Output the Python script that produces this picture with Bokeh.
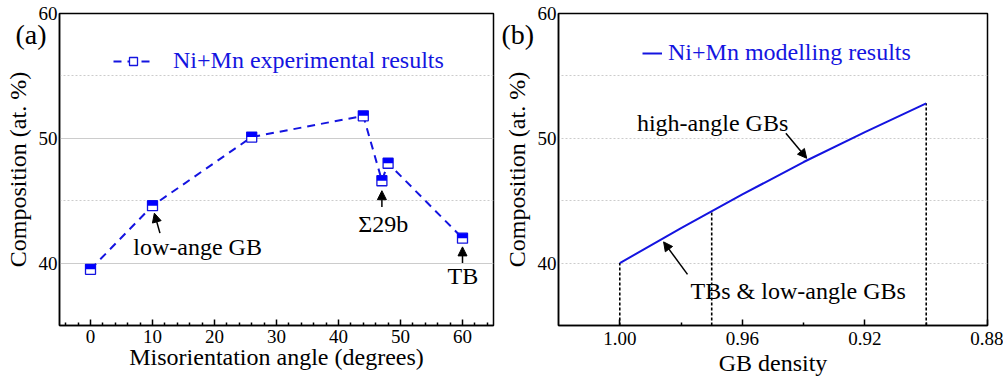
from bokeh.plotting import figure
from bokeh.layouts import row
from bokeh.models import (Range1d, FixedTicker, Legend, LegendItem, Arrow,
                          NormalHead, Label, PrintfTickFormatter, Title)
from bokeh.embed import file_html
from bokeh.resources import INLINE

# ---------------- data ----------------
# panel (a): experimental
angle_deg = [0, 10, 26, 44, 47, 48, 60]
comp_exp = [39.5, 44.6, 50.1, 51.8, 46.6, 48.0, 42.0]

# panel (b): modelling
gb_density = [1.00, 0.98, 0.96, 0.94, 0.92, 0.90]
comp_model = [40.0, 42.8, 45.5, 48.1, 50.5, 52.8]
drop_density = [1.00, 0.97, 0.90]
drop_comp = [40.0, 44.15, 52.8]

y_ticks = [40, 50, 60]
y_minor = [45, 55]
a_ticks = [0, 10, 20, 30, 40, 50, 60]
a_minor = [v for v in range(-4, 66, 2) if v % 10 != 0]
b_ticks = [1.00, 0.96, 0.92, 0.88]
b_minor = [0.98, 0.94, 0.90]

FONT = "Liberation Serif"
BLUE = "#1414e0"
MARK_HALF = 0.2  # half marker height in data units (top-half fill)


def style(p, minor_dotted_only):
    p.outline_line_color = "black"
    p.outline_line_width = 1.5
    p.background_fill_color = "white"
    p.border_fill_color = "white"
    for ax in (p.xaxis[0], p.yaxis[0]):
        ax.axis_line_width = 1.5
        ax.axis_line_color = "black"
        ax.major_label_text_font = FONT
        ax.major_label_text_font_size = "19px"
        ax.major_label_text_color = "black"
        ax.axis_label_text_font = FONT
        ax.axis_label_text_font_size = "24px"
        ax.axis_label_text_font_style = "normal"
        ax.axis_label_text_color = "black"
        ax.major_tick_out = 0
        ax.minor_tick_out = 0
    xa = p.xaxis[0]
    xa.major_tick_in = 6
    xa.minor_tick_in = 3
    xa.major_tick_line_width = 1.5
    xa.minor_tick_line_width = 1.5
    ya = p.yaxis[0]
    ya.major_tick_in = 0
    ya.minor_tick_in = 0
    ya.major_label_standoff = 2
    ya.axis_label_standoff = 5
    ya.ticker = FixedTicker(ticks=y_ticks, minor_ticks=y_minor)
    p.xgrid.visible = False
    g = p.ygrid[0]
    g.grid_line_color = "#cccccc"
    g.grid_line_width = 1
    if minor_dotted_only:
        g.grid_line_dash = "2 2"
    g.minor_grid_line_color = "#cccccc"
    g.minor_grid_line_dash = "2 2"
    g.minor_grid_line_width = 1


def panel_tag(p, text, offset):
    t = Title(text=text, align="left", vertical_align="bottom", offset=offset, standoff=-73,
              text_font=FONT, text_font_size="28px", text_font_style="normal",
              text_color="black")
    p.title = t


# ---------------- panel (a) ----------------
pa = figure(width=500, height=382, x_range=Range1d(-5, 65), y_range=Range1d(35, 60),
            output_backend="svg", toolbar_location=None,
            min_border_left=59, min_border_right=7, min_border_top=13, min_border_bottom=57)
style(pa, False)
pa.xaxis[0].ticker = FixedTicker(ticks=a_ticks, minor_ticks=a_minor)
pa.xaxis[0].axis_label = "Misorientation angle (degrees)"
pa.xaxis[0].major_label_standoff = 4
pa.xaxis[0].axis_label_standoff = -2
pa.yaxis[0].axis_label = "Composition (at. %)"
panel_tag(pa, "(a)", -44)

line_a = pa.line(angle_deg, comp_exp, line_color=BLUE, line_width=2, line_dash="8 6")
sq_a = pa.scatter(angle_deg, comp_exp, marker="square", size=10, fill_color="white",
                  line_color=BLUE, line_width=1.3)
pa.rect(x=angle_deg, y=[c + MARK_HALF for c in comp_exp], width=10, width_units="screen",
        height=2 * MARK_HALF, fill_color="#0000ff", line_color=None)

leg_a = Legend(items=[LegendItem(label="Ni+Mn experimental results", renderers=[line_a, sq_a])],
               location=(54, 251), border_line_color=None, background_fill_alpha=0,
               padding=0, margin=0, glyph_width=40, glyph_height=20, label_standoff=20,
               label_text_font=FONT, label_text_font_size="24px", label_text_color=BLUE)
pa.add_layout(leg_a)

def head():
    return NormalHead(size=9, fill_color="black", line_color="black")

for xs, ys, xe, ye in [(11.2, 42.4, 10.3, 44.0), (47, 44.5, 47, 45.8), (60, 40.0, 60, 41.3)]:
    pa.add_layout(Arrow(end=head(), x_start=xs, y_start=ys, x_end=xe, y_end=ye,
                        line_width=1.5, line_color="black"))

def lab(p, x, y, t, size="24px", color="black"):
    p.add_layout(Label(x=x, y=y, text=t, text_font=FONT, text_font_size=size,
                       text_color=color, text_align="left", text_baseline="middle"))

lab(pa, 6.9, 41.3, "low-ange GB")
lab(pa, 43.2, 43.1, "\u03a329b")
lab(pa, 57.6, 38.95, "TB")

# ---------------- panel (b) ----------------
pb = figure(width=503, height=382, x_range=Range1d(1.02, 0.88), y_range=Range1d(35, 60),
            output_backend="svg", toolbar_location=None,
            min_border_left=54, min_border_right=16, min_border_top=13, min_border_bottom=57)
style(pb, True)
pb.xaxis[0].ticker = FixedTicker(ticks=b_ticks, minor_ticks=b_minor)
pb.xaxis[0].formatter = PrintfTickFormatter(format="%.2f")
pb.xaxis[0].axis_label = "GB density"
pb.xaxis[0].major_label_standoff = 6
pb.xaxis[0].axis_label_standoff = 2
pb.yaxis[0].axis_label = "Composition (at. %)"
panel_tag(pb, "(b)", -57)

pb.segment(x0=drop_density, y0=[pb.y_range.start] * len(drop_density),
           x1=drop_density, y1=drop_comp, line_color="black", line_width=1.6, line_dash="3 2")
line_b = pb.line(gb_density, comp_model, line_color=BLUE, line_width=2)

leg_b = Legend(items=[LegendItem(label="Ni+Mn modelling results", renderers=[line_b])],
               location=(84, 259), border_line_color=None, background_fill_alpha=0,
               padding=0, margin=0, glyph_width=20, glyph_height=20, label_standoff=6,
               label_text_font=FONT, label_text_font_size="24px", label_text_color=BLUE)
pb.add_layout(leg_b)

for xs, ys, xe, ye in [(0.9458, 50.4, 0.9390, 48.4), (0.9779, 39.1, 0.9857, 41.7)]:
    pb.add_layout(Arrow(end=head(), x_start=xs, y_start=ys, x_end=xe, y_end=ye,
                        line_width=1.5, line_color="black"))

lab(pb, 0.9944, 51.2, "high-angle GBs")
lab(pb, 0.9769, 37.76, "TBs & low-angle GBs")

layout = row(pa, pb)
open("out.html", "w").write(file_html(layout, INLINE))
